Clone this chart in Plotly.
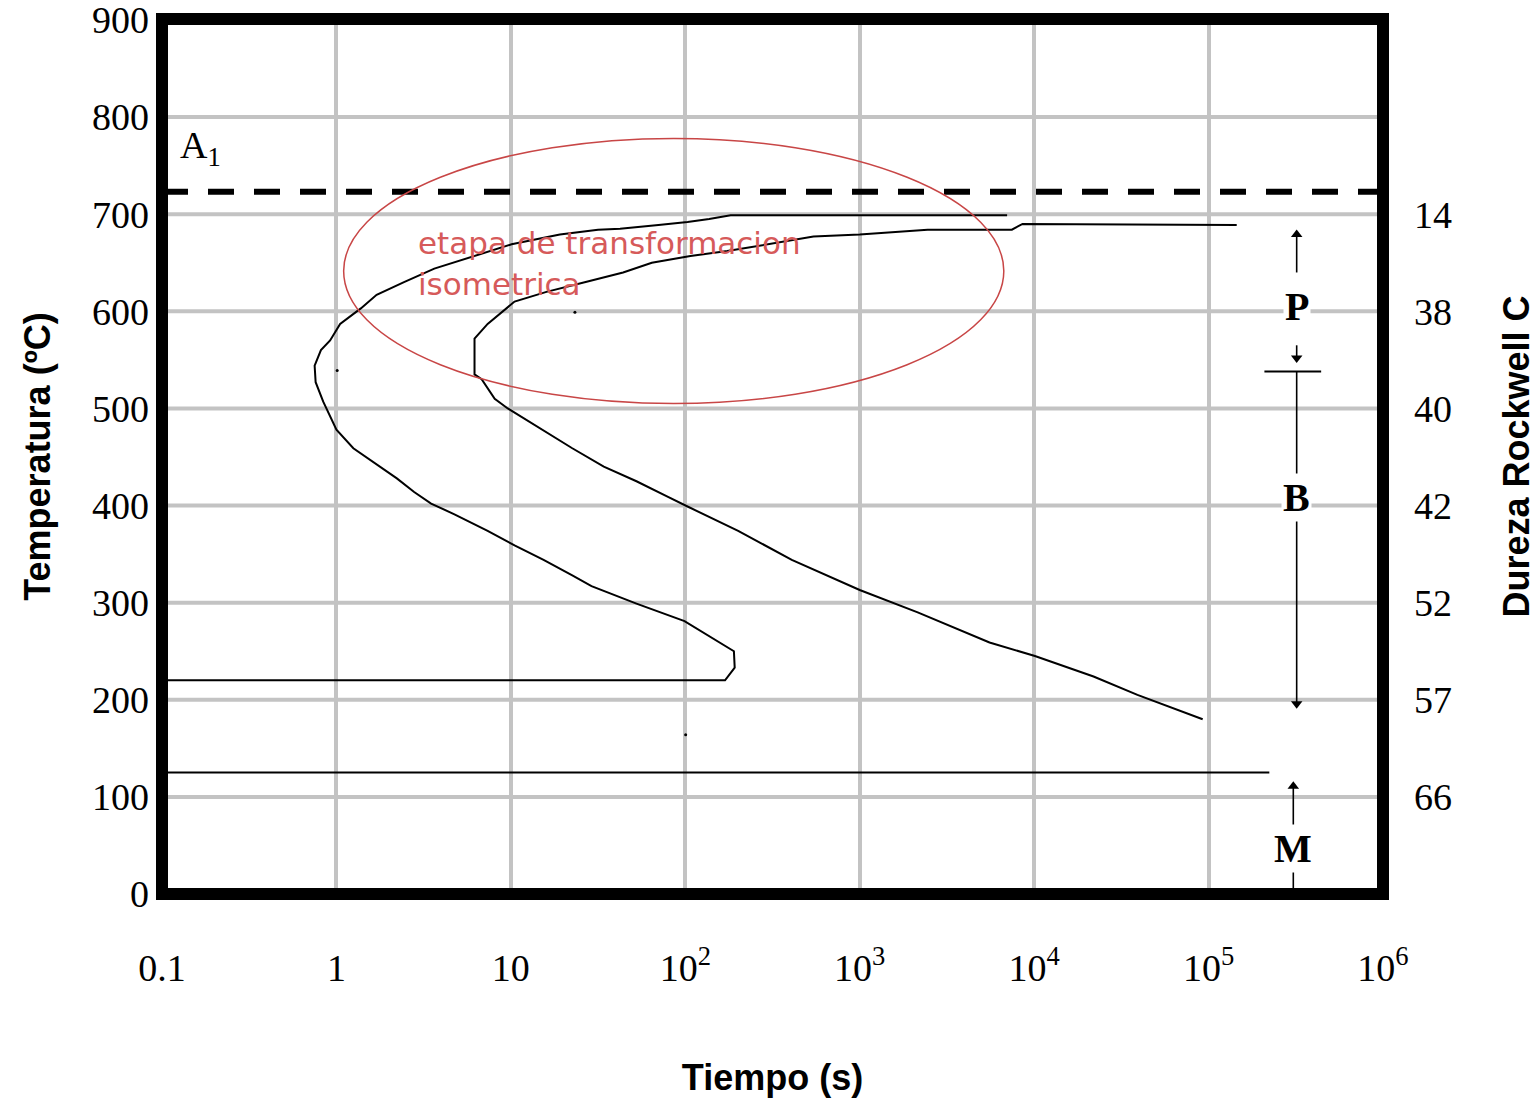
import math
import plotly.graph_objects as go

# ---------------- data ----------------
time_ticks = [0.1, 1, 10, 100, 1e3, 1e4, 1e5, 1e6]
time_tick_text = ["0.1", "1", "10", "10<sup>2</sup>", "10<sup>3</sup>",
                  "10<sup>4</sup>", "10<sup>5</sup>", "10<sup>6</sup>"]
temp_ticks = [0, 100, 200, 300, 400, 500, 600, 700, 800, 900]
grid_temps = [100, 200, 300, 400, 500, 600, 700, 800]
hardness_temps = [700, 600, 500, 400, 300, 200, 100]
hardness_hrc = ["14", "38", "40", "42", "52", "57", "66"]

# transformation start curve (s, ºC)
start_t = [7000, 182, 137, 103, 70.2, 42.3, 31.6, 19.1, 10.1, 5.64, 3.64, 2.44,
           1.70, 1.38, 1.05, 0.92, 0.815, 0.75, 0.76, 0.84, 1.0, 1.25, 1.57,
           2.22, 2.79, 3.49, 4.75, 7.36, 10.5, 15.4, 22.5, 29.0, 52.5, 99,
           190, 192, 169, 0.1]
start_T = [699, 699, 695, 692, 689, 685, 684, 679, 669, 655, 644, 630,
           617, 603, 587, 570, 560, 544, 527, 507, 478, 459, 447,
           428, 414, 402, 391, 374, 359, 344, 328, 317, 299, 281,
           250, 233, 220, 220]

# transformation finish curve (s, ºC)
finish_t = [1.45e5, 8580, 7450, 2450, 1000, 543, 174, 107, 64.3, 44, 26.5, 16.0,
            10.5, 8.87, 7.36, 6.19, 6.19, 6.80, 8.08, 9.6, 14.8, 22.5, 34.1,
            52.5, 79.6, 103, 201, 408, 1000, 2150, 5550, 1.01e4, 2.19e4,
            3.91e4, 9.25e4]
finish_T = [689, 690, 684, 684, 679, 677, 662, 657, 650, 640, 630, 620,
            610, 599, 587, 572, 535, 530, 510, 500, 479, 459, 440,
            425, 409, 399, 374, 344, 313, 290, 259, 245, 224,
            205, 180]

a1_temp = 723            # A1 line
ms_temp = 125            # Ms line
ms_t = [0.1, 2.23e5]
stray_t = [1.01, 23.3, 100.5]
stray_T = [539, 599, 164]

# structure ranges on the right (ºC)
region_t = 3.2e5
m_t = 3.06e5
pearlite_top, pearlite_label, pearlite_low_arrow, pb_limit = 684, 605, 547, 538
bainite_label, bainite_bottom = 408, 191
martensite_top, martensite_label = 116, 47

# ---------------- figure ----------------
fig = go.Figure()
black = "#000000"
thin = dict(color=black, width=2)

fig.add_trace(go.Scatter(x=[0.1, 1e6], y=[a1_temp, a1_temp], mode="lines",
                         line=dict(color=black, width=6, dash="26px,20px"),
                         showlegend=False, hoverinfo="skip"))
fig.add_trace(go.Scatter(x=start_t, y=start_T, mode="lines", line=thin, showlegend=False))
fig.add_trace(go.Scatter(x=finish_t, y=finish_T, mode="lines", line=thin, showlegend=False))
fig.add_trace(go.Scatter(x=ms_t, y=[ms_temp, ms_temp], mode="lines", line=thin,
                         showlegend=False))
fig.add_trace(go.Scatter(x=stray_t, y=stray_T, mode="markers",
                         marker=dict(color=black, size=3), showlegend=False))

# region arrows (stems + heads)
stem = dict(color=black, width=1.6)
fig.add_trace(go.Scatter(x=[region_t, region_t], y=[640, pearlite_top - 4], mode="lines",
                         line=stem, showlegend=False, hoverinfo="skip"))
fig.add_trace(go.Scatter(x=[region_t, region_t], y=[565, pearlite_low_arrow + 4], mode="lines",
                         line=stem, showlegend=False, hoverinfo="skip"))
fig.add_trace(go.Scatter(x=[region_t, region_t], y=[pb_limit, bainite_bottom + 4], mode="lines",
                         line=stem, showlegend=False, hoverinfo="skip"))
fig.add_trace(go.Scatter(x=[m_t, m_t], y=[68, martensite_top - 4], mode="lines",
                         line=stem, showlegend=False, hoverinfo="skip"))
fig.add_trace(go.Scatter(x=[m_t, m_t], y=[0, 27], mode="lines",
                         line=stem, showlegend=False, hoverinfo="skip"))
fig.add_trace(go.Scatter(x=[2.09e5, 4.42e5], y=[pb_limit, pb_limit], mode="lines",
                         line=thin, showlegend=False, hoverinfo="skip"))
fig.add_trace(go.Scatter(x=[region_t, m_t], y=[pearlite_top - 5, martensite_top - 5],
                         mode="markers", marker=dict(symbol="triangle-up", size=10, color=black),
                         showlegend=False, hoverinfo="skip"))
fig.add_trace(go.Scatter(x=[region_t, region_t], y=[pearlite_low_arrow + 5, bainite_bottom + 5],
                         mode="markers", marker=dict(symbol="triangle-down", size=10, color=black),
                         showlegend=False, hoverinfo="skip"))
# hardness scale on the right axis
fig.add_trace(go.Scatter(x=[region_t] * len(hardness_temps), y=hardness_temps,
                         yaxis="y2", mode="markers", marker=dict(opacity=0),
                         showlegend=False, hoverinfo="skip"))

tick_font = dict(family="Liberation Serif", size=38, color=black)
title_font = dict(family="Liberation Sans", size=36, color=black, weight="bold")

fig.update_layout(
    width=1540, height=1101,
    margin=dict(l=162, r=157, t=19, b=207, autoexpand=False),
    paper_bgcolor="white", plot_bgcolor="white",
    xaxis=dict(type="log", range=[-1, 6], tickvals=time_ticks, ticktext=time_tick_text,
               showgrid=True, gridcolor="#c3c3c3", gridwidth=4, zeroline=False,
               showline=False, ticks="", tickfont=tick_font, ticklabelstandoff=48,
               ticklabeloverflow="allow", automargin=False,
               title=dict(text="Tiempo (s)", font=title_font, standoff=76)),
    yaxis=dict(range=[0, 901], tickvals=temp_ticks, showgrid=False, zeroline=False,
               showline=False, ticks="", tickfont=tick_font, ticklabelstandoff=12,
               ticklabeloverflow="allow", automargin=False,
               title=dict(text="Temperatura (ºC)", font=title_font, standoff=30)),
    yaxis2=dict(range=[0, 901], overlaying="y", side="right", tickvals=hardness_temps,
                ticktext=hardness_hrc, showgrid=False, zeroline=False, showline=False,
                ticks="", tickfont=tick_font, ticklabelstandoff=30,
                ticklabeloverflow="allow", automargin=False,
                title=dict(text="Dureza Rockwell C", font=title_font, standoff=52)),
)

shapes = []
for g in grid_temps:
    shapes.append(dict(type="line", xref="paper", x0=0, x1=1, yref="y", y0=g, y1=g,
                       line=dict(color="#c3c3c3", width=4), layer="below"))
# red ellipse
shapes.append(dict(type="circle", xref="x", yref="y", x0=1.1, x1=6700, y0=505, y1=778,
                   line=dict(color="#c84646", width=1.5)))
# thick frame
shapes.append(dict(type="rect", xref="paper", yref="paper", x0=0, x1=1, y0=0, y1=1,
                   line=dict(color=black, width=12), layer="above"))
fig.update_layout(shapes=shapes)

lx = math.log10(region_t)
mx = math.log10(m_t)
label_font = dict(family="Liberation Serif", size=40, color=black, weight="bold")
red_font = dict(family="DejaVu Sans", size=31, color="#d65a5a")
ann = [
    dict(x=lx, y=pearlite_label, text="P", showarrow=False, font=label_font,
         bgcolor="white"),
    dict(x=lx, y=bainite_label, text="B", showarrow=False, font=label_font,
         bgcolor="white"),
    dict(x=mx, y=martensite_label, text="M", showarrow=False, font=label_font,
         bgcolor="white"),
    dict(x=-0.91, y=768, text="A<sub>1</sub>", showarrow=False, xanchor="left",
         font=dict(family="Liberation Serif", size=38, color=black)),
    dict(x=math.log10(2.85), y=670, text="etapa de transformacion", showarrow=False,
         xanchor="left", font=red_font),
    dict(x=math.log10(2.85), y=628, text="isometrica", showarrow=False,
         xanchor="left", font=red_font),
]
fig.update_layout(annotations=ann)

fig.write_html("out.html")
